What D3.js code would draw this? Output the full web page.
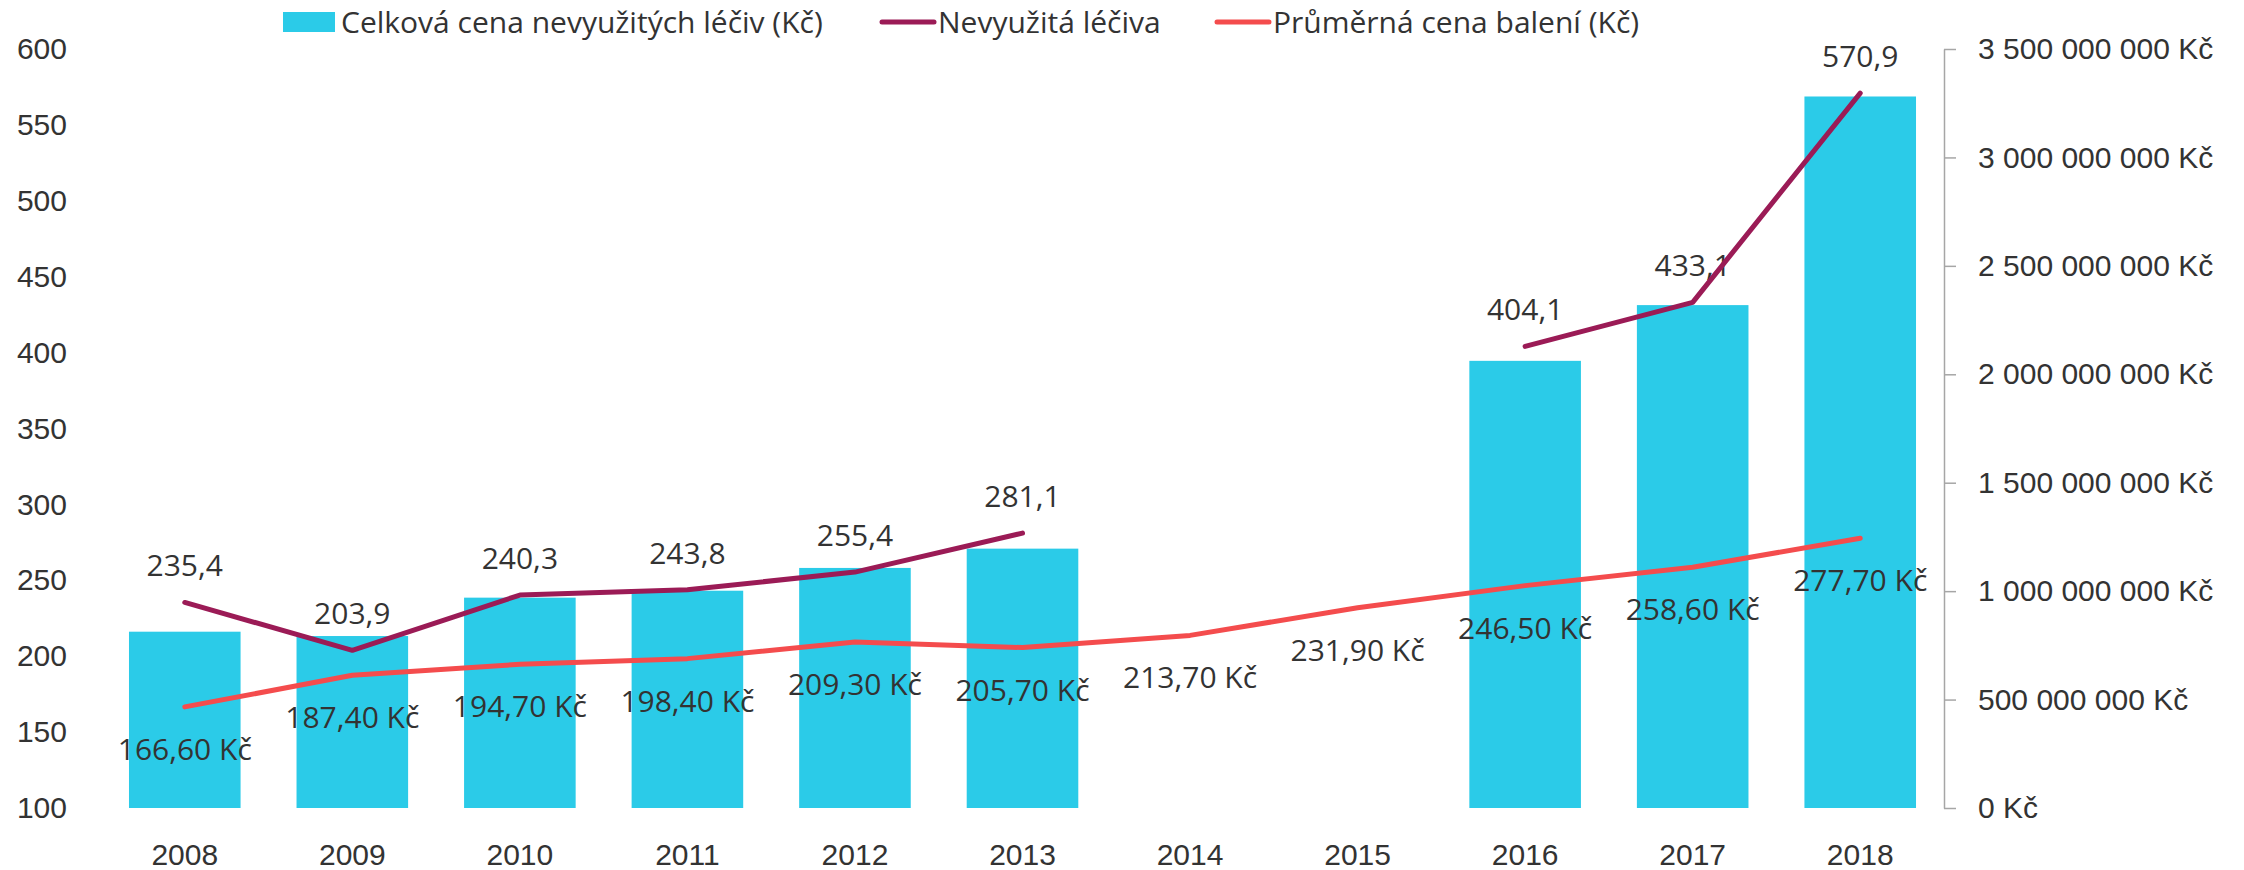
<!DOCTYPE html>
<html lang="cs">
<head>
    <meta charset="UTF-8">
    <script src="https://d3js.org/d3.v7.min.js"></script>
    <style>
        body {
            margin: 0;
            background: #fff;
            font-family: "Open Sans", "Noto Sans", sans-serif;
        }
        text {
            fill: #333;
            font-size: 30px;
        }
    </style>
</head>
<body>
    <svg id="chart"></svg>
    <script>
        // Data
        const years = ["2008", "2009", "2010", "2011", "2012", "2013", "2014", "2015", "2016", "2017", "2018"];
        const totalCost = [813000000, 793000000, 970000000, 1002000000, 1107000000, 1196000000, null, null, 2062000000, 2319000000, 3281000000];
        const unusedDrugs = [235.4, 203.9, 240.3, 243.8, 255.4, 281.1, null, null, 404.1, 433.1, 570.9];
        const avgPrice = [166.6, 187.4, 194.7, 198.4, 209.3, 205.7, 213.7, 231.9, 246.5, 258.6, 277.7];
        const leftTicks = [100, 150, 200, 250, 300, 350, 400, 450, 500, 550, 600];
        const rightTicks = [0, 500000000, 1000000000, 1500000000, 2000000000, 2500000000, 3000000000, 3500000000];
        const legendNames = ["Celková cena nevyužitých léčiv (Kč)", "Nevyužitá léčiva", "Průměrná cena balení (Kč)"];

        const colBar = "#2bcbe8";
        const colUnused = "#9b1b56";
        const colPrice = "#f44c4d";

        const width = 2244, height = 870;
        const margin = { top: 49, right: 300, bottom: 62, left: 101 };

        const cz = d3.formatLocale({ decimal: ",", thousands: " ", grouping: [3], currency: ["", " Kč"] });
        const fmtMoney = cz.format("$,.0f");
        const fmtPrice = cz.format("$,.2f");
        const fmtOne = cz.format(".1f");

        const svg = d3.select("#chart")
            .attr("width", width)
            .attr("height", height);

        const x = d3.scaleBand()
            .domain(years)
            .range([margin.left, width - margin.right])
            .paddingInner(0.334)
            .paddingOuter(0.167);

        const yLeft = d3.scaleLinear()
            .domain([100, 600])
            .range([height - margin.bottom, margin.top]);

        const yRight = d3.scaleLinear()
            .domain([0, 3500000000])
            .range([height - margin.bottom, margin.top]);

        // Levá osa (bez čáry)
        const gl = svg.append("g")
            .attr("transform", `translate(${margin.left - 34},0)`)
            .call(d3.axisLeft(yLeft).tickValues(leftTicks).tickSize(0).tickPadding(0).tickFormat(d => d));
        gl.select(".domain").remove();
        gl.selectAll("text").style("font-size", "30px").style("font-family", "inherit").attr("fill", "#333");

        // Pravá osa
        const gr = svg.append("g")
            .attr("transform", `translate(${width - margin.right},0)`)
            .call(d3.axisRight(yRight).tickValues(rightTicks).tickSize(12).tickSizeOuter(0).tickPadding(22).tickFormat(fmtMoney));
        gr.select(".domain").attr("stroke", "#a6a6a6").attr("stroke-width", 1.5);
        gr.selectAll(".tick line").attr("stroke", "#a6a6a6").attr("stroke-width", 1.5);
        gr.selectAll("text").style("font-size", "30px").style("font-family", "inherit").attr("fill", "#333");

        // Osa X
        const gx = svg.append("g")
            .attr("transform", `translate(0,${height - margin.bottom})`)
            .call(d3.axisBottom(x).tickSize(0).tickPadding(36));
        gx.select(".domain").remove();
        gx.selectAll("text").style("font-size", "30px").style("font-family", "inherit").attr("fill", "#333");

        // Sloupce
        const barData = years.map((y, i) => ({ year: y, v: totalCost[i] })).filter(d => d.v != null);
        svg.selectAll(".bar")
            .data(barData)
            .enter()
            .append("rect")
            .attr("class", "bar")
            .attr("x", d => x(d.year))
            .attr("y", d => yRight(d.v))
            .attr("width", x.bandwidth())
            .attr("height", d => yRight(0) - yRight(d.v))
            .attr("fill", colBar);

        const cx = d => x(d) + x.bandwidth() / 2;

        // Popisky – nevyužitá léčiva (nad bodem)
        svg.selectAll(".lab-unused")
            .data(years.map((y, i) => ({ year: y, v: unusedDrugs[i] })).filter(d => d.v != null))
            .enter()
            .append("text")
            .attr("class", "lab-unused")
            .attr("x", d => cx(d.year))
            .attr("y", d => yLeft(d.v) - 26)
            .attr("text-anchor", "middle")
            .text(d => fmtOne(d.v));

        // Popisky – průměrná cena (pod bodem)
        svg.selectAll(".lab-price")
            .data(years.map((y, i) => ({ year: y, v: avgPrice[i] })))
            .enter()
            .append("text")
            .attr("class", "lab-price")
            .attr("x", d => cx(d.year))
            .attr("y", d => yLeft(d.v) + 53)
            .attr("text-anchor", "middle")
            .text(d => fmtPrice(d.v));

        // Čáry
        const line = d3.line()
            .defined(d => d[1] != null)
            .x(d => cx(d[0]))
            .y(d => yLeft(d[1]));

        svg.append("path")
            .datum(years.map((y, i) => [y, avgPrice[i]]))
            .attr("d", line)
            .attr("fill", "none")
            .attr("stroke", colPrice)
            .attr("stroke-width", 5)
            .attr("stroke-linecap", "round")
            .attr("stroke-linejoin", "round");

        svg.append("path")
            .datum(years.map((y, i) => [y, unusedDrugs[i]]))
            .attr("d", line)
            .attr("fill", "none")
            .attr("stroke", colUnused)
            .attr("stroke-width", 5)
            .attr("stroke-linecap", "round")
            .attr("stroke-linejoin", "round");

        // Legenda
        const legend = svg.append("g");
        legend.append("rect")
            .attr("x", 283).attr("y", 12).attr("width", 52).attr("height", 20)
            .attr("fill", colBar);
        legend.append("text").attr("x", 341).attr("y", 33).text(legendNames[0]);

        legend.append("line")
            .attr("x1", 882).attr("x2", 934).attr("y1", 22).attr("y2", 22)
            .attr("stroke", colUnused).attr("stroke-width", 5).attr("stroke-linecap", "round");
        legend.append("text").attr("x", 938).attr("y", 33).text(legendNames[1]);

        legend.append("line")
            .attr("x1", 1217).attr("x2", 1269).attr("y1", 22).attr("y2", 22)
            .attr("stroke", colPrice).attr("stroke-width", 5).attr("stroke-linecap", "round");
        legend.append("text").attr("x", 1273).attr("y", 33).text(legendNames[2]);
    </script>
</body>
</html>
